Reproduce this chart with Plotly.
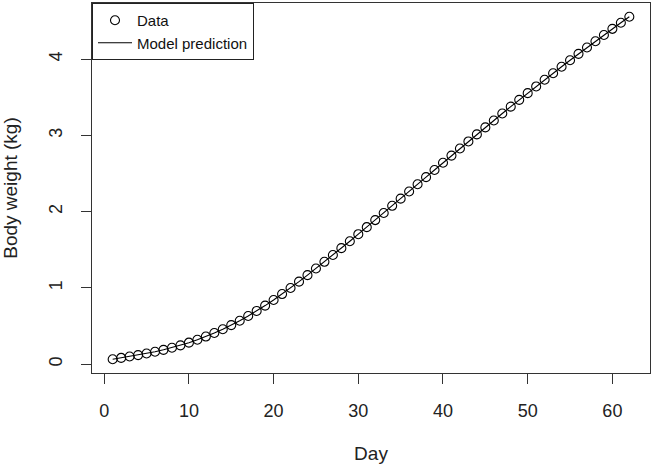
import plotly.graph_objects as go

# === Data ===
days = list(range(1, 63))
weight = [
    0.065, 0.083, 0.101, 0.120, 0.141, 0.164, 0.189, 0.217, 0.248, 0.283,
    0.321, 0.363, 0.409, 0.459, 0.513, 0.571, 0.633, 0.699, 0.769, 0.843,
    0.920, 1.000, 1.083, 1.168, 1.255, 1.343, 1.432, 1.522, 1.613, 1.705,
    1.797, 1.890, 1.983, 2.077, 2.171, 2.265, 2.359, 2.453, 2.547, 2.641,
    2.735, 2.828, 2.921, 3.013, 3.105, 3.196, 3.287, 3.377, 3.466, 3.554,
    3.642, 3.729, 3.815, 3.900, 3.985, 4.069, 4.152, 4.234, 4.316, 4.397,
    4.477, 4.556,
]
prediction = list(weight)
x_ticks = [0, 10, 20, 30, 40, 50, 60]
y_ticks = [0, 1, 2, 3, 4]

# R-style 4% padding of the axis ranges
def padded(vals):
    lo, hi = min(vals), max(vals)
    d = (hi - lo) * 0.04
    return [lo - d, hi + d]

FONT = "Liberation Sans, Arial, sans-serif"

fig = go.Figure()
fig.add_trace(go.Scatter(
    x=days, y=weight, mode="markers", name="Data",
    marker=dict(symbol="circle-open", size=9, color="black", line=dict(width=1.1, color="black")),
))
fig.add_trace(go.Scatter(
    x=days, y=prediction, mode="lines", name="Model prediction",
    line=dict(color="black", width=1.1),
))

axis_common = dict(
    showgrid=False, zeroline=False, showline=True, mirror=True,
    linecolor="#333", linewidth=1.3, ticks="outside", ticklen=10,
    tickcolor="#333", tickwidth=1.3,
    tickfont=dict(family=FONT, size=18, color="#222"),
)

fig.update_layout(
    width=653, height=469,
    paper_bgcolor="white", plot_bgcolor="white",
    margin=dict(l=92, r=3, t=3, b=96),
    showlegend=True,
    legend=dict(
        x=0, y=1, xanchor="left", yanchor="top",
        bgcolor="white", bordercolor="#222", borderwidth=1,
        font=dict(family=FONT, size=15, color="#111"),
        itemwidth=34, tracegroupgap=0,
    ),
    xaxis=dict(
        range=padded(days), tickvals=x_ticks, ticklabelstandoff=11,
        title=dict(text="Day", font=dict(family=FONT, size=19, color="#222"), standoff=26),
        **axis_common,
    ),
    yaxis=dict(
        range=padded(weight), tickvals=y_ticks, tickangle=-90, ticklabelstandoff=12,
        title=dict(text="Body weight (kg)", font=dict(family=FONT, size=19, color="#222"), standoff=25),
        **axis_common,
    ),
)

# drop the browser's default 8px body margin so the figure sits at (0, 0)
fig.write_html(
    "out.html",
    config={"displayModeBar": False},
    post_script="document.body.style.margin='0';",
)
